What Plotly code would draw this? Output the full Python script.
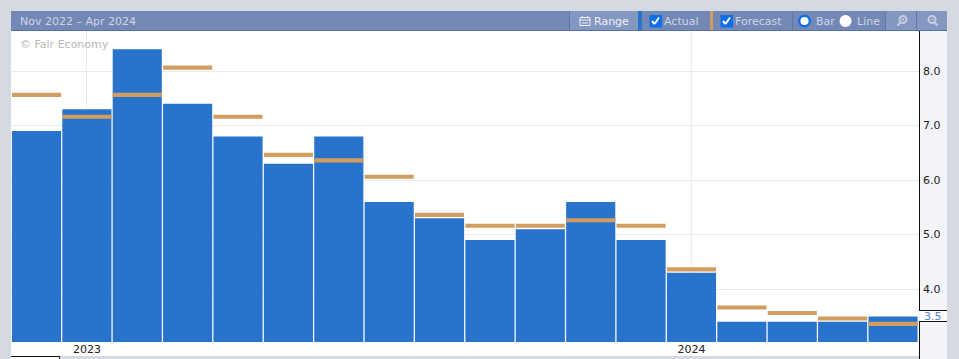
import plotly.graph_objects as go

months = ["Nov 2022","Dec 2022","Jan 2023","Feb 2023","Mar 2023","Apr 2023","May 2023","Jun 2023","Jul 2023",
          "Aug 2023","Sep 2023","Oct 2023","Nov 2023","Dec 2023","Jan 2024","Feb 2024","Mar 2024","Apr 2024"]
actual = [6.9,7.3,8.4,7.4,6.8,6.3,6.8,5.6,5.3,4.9,5.1,5.6,4.9,4.3,3.4,3.4,3.4,3.5]
forecast = [7.6,7.2,7.6,8.1,7.2,6.5,6.4,6.1,5.4,5.2,5.2,5.3,5.2,4.4,3.7,3.6,3.5,3.4]
year_ticks = ["Dec 2022","Dec 2023"]
year_labels = ["2023","2024"]
y_ticks = [4,5,6,7,8]

W, H = 959, 359
L, R, T, B = 11, 919, 31, 342
BLUE = "#2874cd"; ORANGE = "#d29d60"; PANEL = "#d5d9e2"; HEAD = "#7388b5"; HEAD2 = "#8497c0"; TXT = "#cdd5e6"
BAND = 0.075  # forecast marker thickness in axis units

def px(x): return (x - L) / (R - L)
def py(y): return (B - y) / (B - T)

shapes, ann = [], []
def rect(x0, y0, x1, y1, fill, layer="above", line=None, lw=0):
    shapes.append(dict(type="rect", xref="paper", yref="paper", x0=px(x0), x1=px(x1), y0=py(y0), y1=py(y1),
                       fillcolor=fill, line=dict(color=line or fill, width=lw), layer=layer))
def seg(x0, y0, x1, y1, color, lw=1):
    shapes.append(dict(type="line", xref="paper", yref="paper", x0=px(x0), x1=px(x1), y0=py(y0), y1=py(y1),
                       line=dict(color=color, width=lw), layer="above"))
def circ(cx, cy, r, fill, line=None, lw=0):
    shapes.append(dict(type="circle", xref="paper", yref="paper", x0=px(cx-r), x1=px(cx+r), y0=py(cy+r), y1=py(cy-r),
                       fillcolor=fill, line=dict(color=line or fill, width=lw), layer="above"))
def text(x, y, s, color, size=11, anchor="left"):
    ann.append(dict(xref="paper", yref="paper", x=px(x), y=py(y), text=s, showarrow=False, xanchor=anchor, yanchor="middle",
                    font=dict(family="DejaVu Sans", size=size, color=color), xshift=0, yshift=0,
                    borderpad=0, borderwidth=0))

# white strip under the plot
rect(11, 342, 919, 356, "white", layer="below")
# right axis panel
rect(919, 31, 947, 359, "#f3f4f9", layer="below")
rect(920, 311, 947, 321, "white")
seg(919.5, 31, 919.5, 310.5, "#111"); seg(919, 310.5, 947, 310.5, "#111")
seg(919, 321.5, 947, 321.5, "#111"); seg(919.5, 321.5, 919.5, 359, "#111")
text(933, 316, "3.5", "#4a86d0", 11, "center")
# bottom-left selector outline
rect(11, 357, 59, 359, "white")
seg(11, 356.5, 59.5, 356.5, "#111"); seg(59.5, 356.5, 59.5, 359, "#111")

# header
rect(11, 11, 947, 30, HEAD)
seg(11, 30.5, 947, 30.5, "#5273ad", 1)
text(20, 21, "Nov 2022 – Apr 2024", TXT, 11)
rect(570, 11, 638, 30, HEAD2)
rect(638, 11, 642, 30, BLUE)
rect(710, 11, 713, 30, ORANGE)
for xs in [569.5, 792.5, 885.5]:
    seg(xs, 11, xs, 30, "#5f78aa")
rect(886, 11, 916, 30, HEAD2); rect(917, 11, 947, 30, HEAD2)
seg(916.5, 11, 916.5, 30, "#5f78aa")
# range icon
rect(580, 17.5, 590, 25.5, "rgba(0,0,0,0)", line="#eef0f6", lw=1)
seg(580, 20, 590, 20, "#eef0f6"); seg(582.5, 16, 582.5, 18, "#eef0f6"); seg(587.5, 16, 587.5, 18, "#eef0f6")
seg(582, 23, 588, 23, "#eef0f6")
text(594, 21, "Range", "#eef0f6", 11)
# checkboxes
for ox in [649.5, 720.5]:
    rect(ox, 15, ox+12.5, 27.5, "#0f6fe8")
    seg(ox+2.5, 21, ox+5, 24, "white", 2); seg(ox+5, 24, ox+9.5, 17.5, "white", 2)
text(664, 21, "Actual", TXT, 11)
text(735, 21, "Forecast", TXT, 11)
# radios
circ(804.5, 21, 5.3, "white", line="#0f6fe8", lw=2.4)
text(816, 21, "Bar", TXT, 11)
circ(845.5, 21, 6, "white")
text(857, 21, "Line", TXT, 11)
# zoom icons
ICON = "#c5cde0"
circ(903, 19.5, 3.5, "rgba(0,0,0,0)", line=ICON, lw=2)
seg(900.5, 22.5, 897.5, 25.5, ICON, 2)
seg(901.5, 19.5, 904.5, 19.5, ICON, 1); seg(903, 18, 903, 21, ICON, 1)
circ(932, 19.5, 3.5, "rgba(0,0,0,0)", line=ICON, lw=2)
seg(934.5, 22.5, 937.5, 25.5, ICON, 2)
seg(930.5, 19.5, 933.5, 19.5, ICON, 1)

text(20, 44, "© Fair Economy", "#b8b8b8", 11)

fig = go.Figure()
fig.add_trace(go.Bar(x=months, y=actual, marker=dict(color=BLUE, line=dict(width=0)), width=0.975, name="Actual"))
fig.add_trace(go.Bar(x=months, y=[BAND] * len(forecast), base=[f - BAND for f in forecast], name="Forecast",
                     marker=dict(color=ORANGE, line=dict(width=0)), width=0.975))
fig.update_layout(
    width=W, height=H, autosize=False, showlegend=False, paper_bgcolor=PANEL, plot_bgcolor="white",
    barmode="overlay",
    margin=dict(l=L, r=W-R, t=T, b=H-B, pad=0),
    font=dict(family="DejaVu Sans", size=11, color="#222"),
    shapes=shapes, annotations=ann,
    xaxis=dict(type="category", categoryorder="array", categoryarray=months, range=[-0.506, 17.516], automargin=False,
               tickmode="array", tickvals=year_ticks, ticktext=year_labels, ticks="", showline=False,
               showgrid=True, gridcolor="#e8eaee", gridwidth=1, zeroline=False, ticklabelstandoff=-1,
               tickfont=dict(size=11, color="#222")),
    yaxis=dict(side="right", range=[3.03, 8.735], automargin=False, tickmode="array", tickvals=y_ticks, tickformat=".1f",
               showgrid=True, gridcolor="#e8eaee", gridwidth=1, zeroline=False, showline=False, ticks="",
               ticklabelstandoff=3, tickfont=dict(size=11, color="#222")),
)
fig.write_html("out.html", post_script="document.body.style.margin='0';", config={"displayModeBar": False})
